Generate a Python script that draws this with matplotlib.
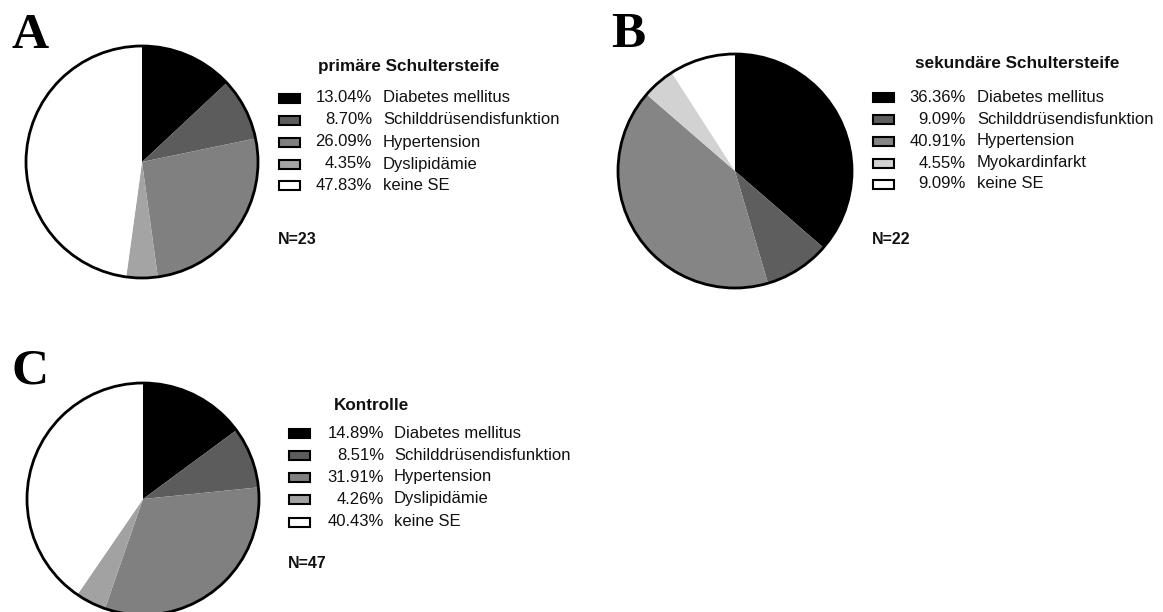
import matplotlib
matplotlib.use("Agg")
import matplotlib.pyplot as plt
from matplotlib.patches import Rectangle, Circle

W, H = 1163, 612

# ---- data ----
labels_a = ["Diabetes mellitus", "Schilddrüsendisfunktion", "Hypertension", "Dyslipidämie", "keine SE"]
values_a = [13.04, 8.70, 26.09, 4.35, 47.83]
colors_a = ["#000000", "#5c5c5c", "#808080", "#a4a4a4", "#ffffff"]

labels_b = ["Diabetes mellitus", "Schilddrüsendisfunktion", "Hypertension", "Myokardinfarkt", "keine SE"]
values_b = [36.36, 9.09, 40.91, 4.55, 9.09]
colors_b = ["#000000", "#5e5e5e", "#858585", "#d2d2d2", "#ffffff"]

labels_c = ["Diabetes mellitus", "Schilddrüsendisfunktion", "Hypertension", "Dyslipidämie", "keine SE"]
values_c = [14.89, 8.51, 31.91, 4.26, 40.43]
colors_c = ["#000000", "#5c5c5c", "#808080", "#a2a2a2", "#ffffff"]

titles = ["primäre Schultersteife", "sekundäre Schultersteife", "Kontrolle"]
n_labels = ["N=23", "N=22", "N=47"]
panel_letters = ["A", "B", "C"]

fig = plt.figure(figsize=(W / 100, H / 100), dpi=100)
fig.patch.set_facecolor("white")

# overlay axes in pixel coordinates for text/legends
ov = fig.add_axes([0, 0, 1, 1])
ov.set_xlim(0, W)
ov.set_ylim(H, 0)
ov.axis("off")

FONT = "Liberation Sans"


def pie_panel(cx, cy, r, values, colors):
    ax = fig.add_axes([(cx - r) / W, 1 - (cy + r) / H, 2 * r / W, 2 * r / H])
    ax.pie(values, colors=colors, startangle=90, counterclock=False, radius=1,
           wedgeprops=dict(linewidth=0, edgecolor="none", antialiased=True))
    ax.add_patch(Circle((0, 0), 1, fill=False, edgecolor="black", linewidth=2.0, clip_on=False))
    ax.set_xlim(-1, 1)
    ax.set_ylim(-1, 1)
    ax.set_aspect("equal")
    ax.axis("off")
    ax.set_zorder(0)


def legend_panel(title, box_x, title_x, title_y, row_ys, values, colors, labels, pct_x, lab_x, n_text, n_y):
    ov.text(title_x, title_y, title, fontsize=12.3, fontweight="bold",
            family=FONT, ha="left", va="center", color="#111111")
    for y, v, c, lab in zip(row_ys, values, colors, labels):
        ov.add_patch(Rectangle((box_x, y - 4.5), 21, 9, facecolor=c, edgecolor="black", linewidth=1.5))
        ov.text(pct_x, y, f"{v:.2f}%", fontsize=12, family=FONT, ha="right", va="center", color="#111111")
        ov.text(lab_x, y, lab, fontsize=12, family=FONT, ha="left", va="center", color="#111111")
    ov.text(box_x - 1, n_y, n_text, fontsize=11.5, fontweight="bold", family=FONT,
            ha="left", va="center", color="#111111")


# Panel A
pie_panel(142, 162, 116, values_a, colors_a)
legend_panel(titles[0], 279, 318, 66, [98, 120, 142, 164, 185], values_a, colors_a, labels_a,
             372, 383, n_labels[0], 239)

# Panel B
pie_panel(735, 171, 117, values_b, colors_b)
legend_panel(titles[1], 873, 915, 63, [97, 119, 141, 163, 184], values_b, colors_b, labels_b,
             966, 977, n_labels[1], 240)

# Panel C
pie_panel(143, 499, 116, values_c, colors_c)
legend_panel(titles[2], 289, 334, 406, [433, 455, 477, 499, 522], values_c, colors_c, labels_c,
             384, 394, n_labels[2], 563)

# Panel letters
for letter, (x, y) in zip(panel_letters, [(11, 36), (611, 35), (11, 371)]):
    ov.text(x, y, letter, fontsize=37, fontweight="bold", family="Liberation Serif",
            ha="left", va="center", color="black")

ov.set_zorder(5)
fig.savefig("out.png", dpi=100)
